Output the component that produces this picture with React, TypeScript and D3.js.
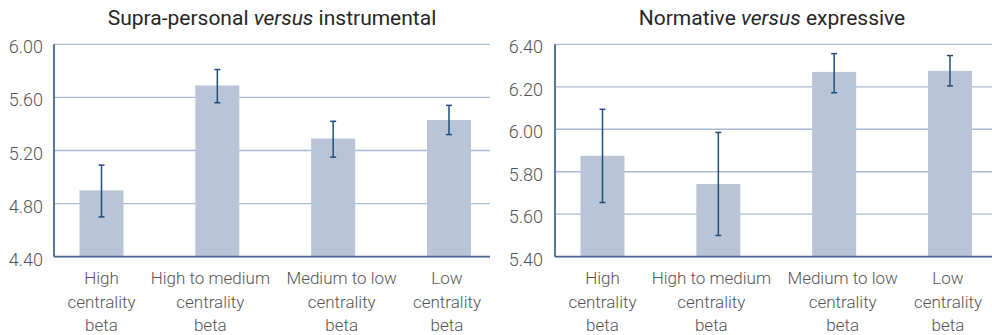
import React from "react";
import * as d3 from "d3";

const categories: string[][] = [
  ["High", "centrality", "beta"],
  ["High to medium", "centrality", "beta"],
  ["Medium to low", "centrality", "beta"],
  ["Low", "centrality", "beta"],
];

const leftMeans = [4.9, 5.69, 5.29, 5.43];
const leftLow = [4.7, 5.56, 5.15, 5.32];
const leftHigh = [5.09, 5.81, 5.42, 5.54];
const leftTicks = [4.4, 4.8, 5.2, 5.6, 6.0];

const rightMeans = [5.875, 5.742, 6.27, 6.275];
const rightLow = [5.655, 5.5, 6.172, 6.204];
const rightHigh = [6.094, 5.985, 6.356, 6.347];
const rightTicks = [5.4, 5.6, 5.8, 6.0, 6.2, 6.4];

// layout: horizontal nudge of the category labels relative to bar centres
const LABEL_NUDGE = [0, -7, 8.5, -2];

const FONT = "Roboto, 'Noto Sans', sans-serif";

type PanelProps = {
  titleA: string;
  titleB: string;
  means: number[];
  lows: number[];
  highs: number[];
  ticks: number[];
  x0: number;
  x1: number;
  c0: number;
  c1: number;
  labelX: number;
  titleX: number;
};

function Panel(p: PanelProps) {
  const top = 44.3;
  const bottom = 256.7;
  const y = d3
    .scaleLinear()
    .domain([p.ticks[0], p.ticks[p.ticks.length - 1]])
    .range([bottom, top]);
  const idx = categories.map((_, i) => String(i));
  const x = d3.scalePoint<string>().domain(idx).range([p.c0, p.c1]);
  const bw = 44;
  const cap = 6;
  return (
    <g>
      <text
        x={p.titleX}
        y={25}
        textAnchor="middle"
        fontFamily={FONT}
        fontSize={21}
        fill="#262626"
      >
        {p.titleA}
        <tspan fontStyle="italic">versus</tspan>
        {p.titleB}
      </text>
      {p.ticks.map((t) => (
        <g key={t}>
          <line
            x1={p.x0}
            x2={p.x1}
            y1={y(t)}
            y2={y(t)}
            stroke="#aab8d2"
            strokeWidth={1.3}
          />
          <text
            x={p.labelX}
            y={y(t)}
            dy="0.5em"
            textAnchor="end"
            fontFamily={FONT}
            fontWeight={300}
            fontSize={18}
            fill="#555"
          >
            {d3.format(".2f")(t)}
          </text>
        </g>
      ))}
      {p.means.map((m, i) => {
        const cx = x(String(i)) as number;
        return (
          <g key={i}>
            <rect
              x={cx - bw / 2}
              y={y(m)}
              width={bw}
              height={bottom - y(m)}
              fill="#b9c5d6"
            />
            <line
              x1={cx}
              x2={cx}
              y1={y(p.highs[i])}
              y2={y(p.lows[i])}
              stroke="#1f4e7c"
              strokeWidth={1.5}
            />
            <line
              x1={cx - cap / 2}
              x2={cx + cap / 2}
              y1={y(p.highs[i])}
              y2={y(p.highs[i])}
              stroke="#1f4e7c"
              strokeWidth={1.5}
            />
            <line
              x1={cx - cap / 2}
              x2={cx + cap / 2}
              y1={y(p.lows[i])}
              y2={y(p.lows[i])}
              stroke="#1f4e7c"
              strokeWidth={1.5}
            />
            {categories[i].map((ln, j) => (
              <text
                key={j}
                x={cx + LABEL_NUDGE[i]}
                y={284 + j * 23.5}
                textAnchor="middle"
                fontFamily={FONT}
                fontWeight={300}
                fontSize={17}
                fill="#555"
              >
                {ln}
              </text>
            ))}
          </g>
        );
      })}
      <line
        x1={p.x0}
        x2={p.x0}
        y1={top}
        y2={bottom}
        stroke="#46688f"
        strokeWidth={1.8}
      />
      <line
        x1={p.x0}
        x2={p.x1}
        y1={bottom}
        y2={bottom}
        stroke="#46688f"
        strokeWidth={1.8}
      />
    </g>
  );
}

export default function App() {
  return (
    <svg
      width={992}
      height={335}
      style={{ position: "absolute", left: 0, top: 0, background: "#fff" }}
    >
      <Panel
        titleA="Supra-personal "
        titleB=" instrumental"
        means={leftMeans}
        lows={leftLow}
        highs={leftHigh}
        ticks={leftTicks}
        x0={54}
        x1={490}
        c0={101.5}
        c1={449}
        labelX={43}
        titleX={272}
      />
      <Panel
        titleA="Normative "
        titleB=" expressive"
        means={rightMeans}
        lows={rightLow}
        highs={rightHigh}
        ticks={rightTicks}
        x0={555}
        x1={992}
        c0={602.5}
        c1={950}
        labelX={543}
        titleX={772}
      />
    </svg>
  );
}
